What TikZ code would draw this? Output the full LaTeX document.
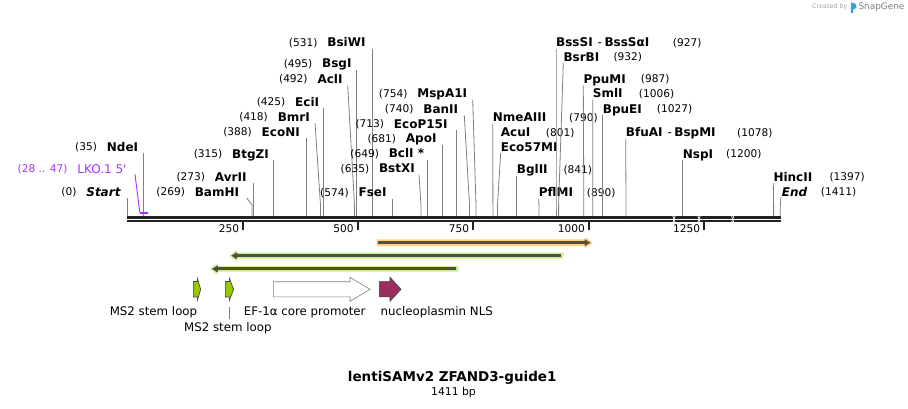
\documentclass[tikz,border=0pt]{standalone}
\usepackage{fontspec}
\setmainfont{DejaVu Sans}
\definecolor{conn}{RGB}{128,128,128}
\definecolor{rul}{RGB}{34,34,34}
\definecolor{lko}{RGB}{170,50,250}
\definecolor{orband}{RGB}{255,208,128}
\definecolor{grband}{RGB}{195,240,140}
\definecolor{arrdark}{RGB}{85,80,60}
\definecolor{msgreen}{RGB}{150,200,0}
\definecolor{nls}{RGB}{155,45,95}
\definecolor{logoblue}{RGB}{60,160,220}
\tikzset{
  nm/.style={font=\fontsize{12}{14}\selectfont\bfseries, inner sep=0pt, text height=8.7pt, text depth=0pt},
  num/.style={font=\fontsize{10.6}{12}\selectfont, inner sep=0pt, text height=7.7pt, text depth=0pt},
  flab/.style={font=\fontsize{11.8}{14}\selectfont, inner sep=0pt, text height=8.6pt, text depth=0pt},
  cline/.style={draw=conn, line width=0.8pt},
  rulerline/.style={draw=rul, line width=2.7pt},
  tickline/.style={draw=rul, line width=1.8pt},
  featout/.style={draw=black!75, line width=0.6pt},
}
\newcommand{\LLab}[7]{%
  \node[nm, anchor=east] (n#1) at (#2,#3) {#5};
  \node[num, anchor=east] (p#1) at ([xshift=-9.5pt]n#1.west) {(#4)};
  \coordinate (t#1) at (#6,{#3+6.3});
  \coordinate (k#1) at (#7,205);
  \coordinate (b#1) at (#7,216);
  \draw[cline] (t#1) -- (k#1) -- (b#1);
}
\newcommand{\RLab}[7]{%
  \node[nm, anchor=west] (n#1) at (#2,#3) {#4};
  \node[num, anchor=west] (p#1) at (#5,#3) {(#6)};
  \coordinate (t#1) at (#2,{#3+6.3});
  \coordinate (k#1) at (#7,205);
  \coordinate (b#1) at (#7,216);
  \draw[cline] (t#1) -- (k#1) -- (b#1);
}
\begin{document}
\begin{tikzpicture}[x=1pt,y=-1pt]
\useasboundingbox[fill=white] (0,0) rectangle (908,408);

% ruler
\coordinate (r0a) at (127.3,217.35);
\coordinate (r1a) at (780.7,217.35);
\coordinate (r0b) at (127.3,221.0);
\coordinate (r1b) at (780.7,221.0);
\draw[rulerline] (r0a) -- (r1a);
\draw[rulerline] (r0b) -- (r1b);
\foreach \bx in {674,699,732.7}{
  \draw[white, line width=0.7pt] (\bx-1.3,215.6) -- (\bx+1.3,222.8);
  \draw[white, line width=0.7pt] (\bx+1.3,215.6) -- (\bx-1.3,222.8);
}
\foreach \tx/\tl in {243.3/250, 357.7/500, 473.3/750, 589/1000, 704.3/1250}{
  \coordinate (ta\tl) at (\tx,222.3);
  \coordinate (tb\tl) at (\tx,229.5);
  \draw[tickline] (ta\tl) -- (tb\tl);
  \node[num, anchor=east] (tl\tl) at (\tx-4,228.9) {\tl};
}

% left labels
\LLab{start}{120.7}{191.7}{0}{\itshape Start}{127.5}{127.5}
\LLab{ndei}{138.3}{146.7}{35}{NdeI}{143.5}{143.5}
\LLab{bamhi}{239.3}{191.7}{269}{BamHI}{246.7}{252}
\LLab{avrii}{246.7}{176.7}{273}{AvrII}{253.5}{253.5}
\LLab{btgzi}{269}{154}{315}{BtgZI}{273.3}{273.3}
\LLab{econi}{300}{131.7}{388}{EcoNI}{306.3}{306.3}
\LLab{bmri}{310}{116.7}{418}{BmrI}{315}{320.5}
\LLab{ecii}{319.3}{101.7}{425}{EciI}{323.5}{323.5}
\LLab{acli}{342.7}{79}{492}{AclI}{347.7}{354.5}
\LLab{bsgi}{351.7}{63.3}{495}{BsgI}{356.7}{356.7}
\LLab{bsiwi}{365.7}{42.3}{531}{BsiWI}{372.5}{372.5}
\LLab{fsei}{386.7}{192.3}{574}{FseI}{392.8}{392.8}
\LLab{bstxi}{415}{168.3}{635}{BstXI}{419}{421}
\LLab{bcli}{424.3}{153.3}{649}{BclI *}{427.4}{427.4}
\LLab{apoi}{436.7}{138.3}{681}{ApoI}{442.4}{442.4}
\LLab{ecop}{447.7}{124}{713}{EcoP15I}{456.8}{456.8}
\LLab{banii}{458.3}{109}{740}{BanII}{464.3}{469.5}
\LLab{mspa}{467.3}{93.3}{754}{MspA1I}{472.7}{476}

% LKO.1 5'
\node[flab, font=\fontsize{12}{14}\selectfont, text=lko, anchor=east] (nlko) at (126.7,169) {LKO.1 5\textquotesingle};
\node[num, text=lko, anchor=east] (plko) at ([xshift=-9.5pt]nlko.west) {(28 .. 47)};
\coordinate (tlko) at (135,174.3);
\coordinate (klko) at (139.8,212.5);
\coordinate (elko) at (148,212.5);
\draw[lko, line width=0.9pt] (tlko) -- (klko);
\draw[lko, line width=2pt] (klko) -- (elko);

% right labels
\RLab{nme}{492.7}{117.3}{NmeAIII}{569}{790}{492.9}
\node[nm, anchor=west] (nacu) at (500.7,132.3) {AcuI};
\node[num, anchor=west] (pacu) at (545.7,132.3) {(801)};
\node[nm, anchor=west] (neco) at (500.7,146.7) {Eco57MI};
\coordinate (teco) at (500.7,152.7);
\coordinate (keco) at (497.5,205);
\coordinate (beco) at (497.5,216);
\draw[cline] (teco) -- (keco) -- (beco);
\RLab{bglii}{516.7}{169.3}{BglII}{563.3}{841}{516.7}
\RLab{pflmi}{538.7}{192.3}{PflMI}{586.7}{890}{538.9}
\RLab{bsssi}{556}{42.3}{BssSI\hspace{5pt}{\mdseries -}\hspace{2.5pt}BssSαI}{672.7}{927}{556}
\RLab{bsrbi}{563.3}{56.7}{BsrBI}{613.3}{932}{558.6}
\RLab{ppumi}{583.3}{79}{PpuMI}{640.7}{987}{583.8}
\RLab{smli}{592.7}{93.3}{SmlI}{638.7}{1006}{592.8}
\RLab{bpuei}{602.7}{109}{BpuEI}{656.7}{1027}{602.7}
\RLab{bfuai}{625.7}{132.3}{BfuAI\hspace{5pt}{\mdseries -}\hspace{2.5pt}BspMI}{737}{1078}{626}
\RLab{nspi}{682.7}{154}{NspI}{726}{1200}{682.7}
\RLab{hincii}{773.3}{176.7}{HincII}{829.3}{1397}{773.6}
\node[nm, anchor=west] (nend) at (781.7,191.7) {\itshape End};
\node[num, anchor=west] (pend) at (820.7,191.7) {(1411)};
\coordinate (tend) at (781,197);
\coordinate (kend) at (780.3,206);
\coordinate (bend) at (780.3,216);
\draw[cline] (tend) -- (kend) -- (bend);

% thin feature arrows with highlight
\fill[orband] (376.7,239.3) -- (585,239.3) -- (585,237) -- (592.7,242.7) -- (585,248.4) -- (585,246) -- (376.7,246) -- cycle;
\draw[arrdark, line width=3pt] (378.3,242.7) -- (585.5,242.7);
\fill[arrdark] (584.5,239.2) -- (590.5,242.7) -- (584.5,246.2) -- cycle;

\fill[grband] (563.3,252.7) -- (236.7,252.7) -- (236.7,250.2) -- (229.3,255.7) -- (236.7,261.2) -- (236.7,258.7) -- (563.3,258.7) -- cycle;
\draw[arrdark, line width=3pt] (561,255.7) -- (236,255.7);
\fill[arrdark] (237,252.2) -- (231.3,255.7) -- (237,259.2) -- cycle;

\fill[grband] (458.3,266) -- (217.3,266) -- (217.3,263.5) -- (210,268.9) -- (217.3,274.3) -- (217.3,271.7) -- (458.3,271.7) -- cycle;
\draw[arrdark, line width=3pt] (456,268.9) -- (217,268.9);
\fill[arrdark] (217.8,265.4) -- (212,268.9) -- (217.8,272.4) -- cycle;

% feature shapes
\draw[featout, fill=msgreen] (193.3,281.5) -- (197.3,281.5) -- (197.3,278) -- (200.7,289.3) -- (197.3,300.6) -- (197.3,297) -- (193.3,297) -- cycle;
\draw[featout, fill=msgreen] (225.3,281.5) -- (229.3,281.5) -- (229.3,278) -- (233.7,289.3) -- (229.3,300.6) -- (229.3,297) -- (225.3,297) -- cycle;
\draw[draw=black!50, line width=0.6pt, fill=white] (273.3,281.7) -- (350,281.7) -- (350,277.3) -- (370,289.3) -- (350,301.3) -- (350,296.9) -- (273.3,296.9) -- cycle;
\draw[featout, fill=nls] (379.3,281.7) -- (390,281.7) -- (390,277.3) -- (401,289.3) -- (390,301.3) -- (390,296.9) -- (379.3,296.9) -- cycle;

\node[flab] (lms1) at (153.5,310.7) {MS2 stem loop};
\node[flab] (lms2) at (227.8,326.7) {MS2 stem loop};
\coordinate (ms2a) at (229.3,307);
\coordinate (ms2b) at (229.3,319.3);
\draw[cline] (ms2a) -- (ms2b);
\node[flab] (lef) at (304.7,310.7) {EF-1α core promoter};
\node[flab] (lnls) at (436.7,310.7) {nucleoplasmin NLS};

% title
\node[font=\fontsize{13.5}{15}\selectfont\bfseries, inner sep=0pt] (title) at (452.2,378) {lentiSAMv2 ZFAND3-guide1};
\node[font=\fontsize{10.8}{12}\selectfont, inner sep=0pt] (len) at (453.5,393) {1411 bp};

% credit
\node[font=\fontsize{6.4}{8}\selectfont, text=black!35, inner sep=0pt, anchor=west] (cby) at (812,7.2) {Created by};
\fill[logoblue] (850.8,13) -- (850.8,2.5) .. controls (855.5,2.5) and (857,4.5) .. (856.5,7) .. controls (856,9) and (854,9.5) .. (853.2,9.5) -- (853.2,13) -- cycle;
\node[font=\fontsize{8.9}{10}\selectfont, text=black!50, inner sep=0pt, anchor=west] (sg) at (858.3,7.5) {SnapGene};
\end{tikzpicture}
\end{document}
